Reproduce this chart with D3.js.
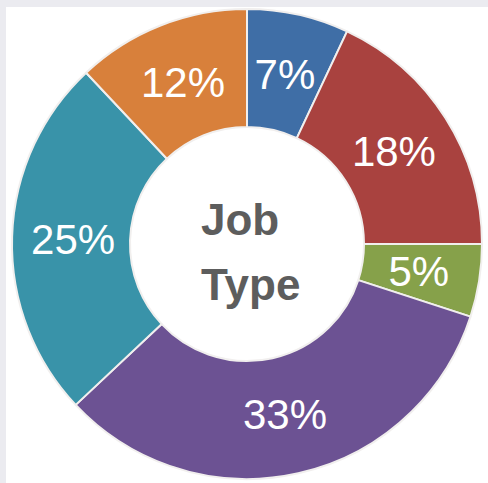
<!DOCTYPE html>
<html>
<head>
<meta charset="utf-8">
<script src="https://cdn.jsdelivr.net/npm/d3@7"></script>
<style>
  html, body { margin: 0; padding: 0; background: #ffffff; }
  svg { display: block; }
</style>
</head>
<body>
<svg id="chart" width="488" height="483"></svg>
<script>
// slices clockwise from 12 o'clock
const shares = [7, 18, 5, 33, 25, 12];
const colors = ["#3f6ea6", "#a9423f", "#86a14a", "#6c5293", "#3993a9", "#d8803b"];
const centerLines = ["Job", "Type"];

const svg = d3.select("#chart");
const W = 488, H = 483;

// grey frame bands from the source slide
svg.append("rect").attr("x", 0).attr("y", 0).attr("width", W).attr("height", 7).attr("fill", "#ebebf0");
svg.append("rect").attr("x", 0).attr("y", 0).attr("width", 6).attr("height", H).attr("fill", "#ebebf0");

const cx = 247, cy = 244;
const outerR = 235, innerR = 117;

const pie = d3.pie().sort(null).value(d => d);
const arcs = pie(shares);

const arc = d3.arc().innerRadius(innerR).outerRadius(outerR);
const labelArc = d3.arc().innerRadius(174).outerRadius(174);

const g = svg.append("g").attr("transform", `translate(${cx},${cy})`);

g.selectAll("path")
  .data(arcs)
  .enter()
  .append("path")
  .attr("d", arc)
  .attr("fill", (d, i) => colors[i])
  .attr("stroke", "#f1efee")
  .attr("stroke-width", 2)
  .attr("stroke-linejoin", "round");

g.selectAll("text.pct")
  .data(arcs)
  .enter()
  .append("text")
  .attr("class", "pct")
  .attr("transform", d => `translate(${labelArc.centroid(d)})`)
  .attr("text-anchor", "middle")
  .attr("dy", "0.36em")
  .attr("fill", "#ffffff")
  .attr("font-family", "'Liberation Sans', Arial, sans-serif")
  .attr("font-size", 42)
  .text(d => d.data + "%");

const center = g.append("text")
  .attr("font-family", "'Liberation Sans', Arial, sans-serif")
  .attr("font-weight", "bold")
  .attr("font-size", 44)
  .attr("fill", "#5d5d5d");

center.selectAll("tspan")
  .data(centerLines)
  .enter()
  .append("tspan")
  .attr("x", -46)
  .attr("y", (d, i) => -9 + i * 65)
  .text(d => d);
</script>
</body>
</html>
